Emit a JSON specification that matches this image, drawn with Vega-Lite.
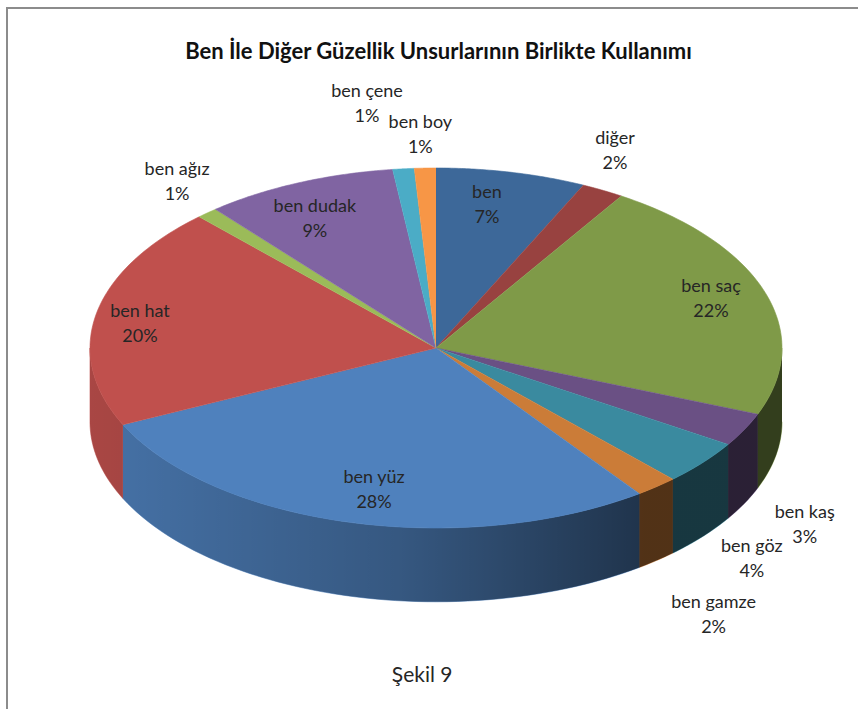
{
  "$schema": "https://vega.github.io/schema/vega-lite/v6.json",
  "width": 860,
  "height": 720,
  "padding": {"left": 7, "top": 8, "right": 0, "bottom": 0},
  "autosize": "none",
  "background": "white",
  "view": {"stroke": "#8c8c8c", "strokeWidth": 2, "fill": "white"},
  "title": {
    "text": "Ben İle Diğer Güzellik Unsurlarının Birlikte Kullanımı",
    "font": "Lato",
    "fontSize": 22,
    "fontWeight": "bold",
    "color": "#111111",
    "anchor": "middle",
    "orient": "top",
    "offset": 0,
    "dy": 66,
    "dx": 1.5,
    "baseline": "middle"
  },
  "datasets": {
    "slices": [
      {"label": "ben", "value": 7},
      {"label": "diğer", "value": 2},
      {"label": "ben saç", "value": 22},
      {"label": "ben kaş", "value": 3},
      {"label": "ben göz", "value": 4},
      {"label": "ben gamze", "value": 2},
      {"label": "ben yüz", "value": 28},
      {"label": "ben hat", "value": 20},
      {"label": "ben ağız", "value": 1},
      {"label": "ben dudak", "value": 9},
      {"label": "ben çene", "value": 1},
      {"label": "ben boy", "value": 1}
    ]
  },
  "encoding": {
    "x": {"type": "quantitative", "scale": {"domain": [-1.2399, 1.2457], "nice": false, "zero": false}, "axis": null},
    "y": {"type": "quantitative", "scale": {"domain": [-2.1111, 1.8889], "nice": false, "zero": false}, "axis": null}
  },
  "layer": [
    {
      "data": {"name": "slices"},
      "transform": [
        {"window": [{"op": "sum", "field": "value", "as": "cum"}]},
        {"calculate": "(datum.cum - datum.value) * 3.6", "as": "a0"},
        {"calculate": "datum.cum * 3.6", "as": "a1"},
        {"calculate": "clamp(datum.a0, 90, 270)", "as": "w0"},
        {"calculate": "clamp(datum.a1, 90, 270)", "as": "w1"},
        {"filter": "datum.w1 > datum.w0"},
        {"calculate": "sequence(0, 120)", "as": "i"},
        {"flatten": ["i"]},
        {"calculate": "datum.i < 60 ? datum.w0 + (datum.w1 - datum.w0) * datum.i / 59 : datum.w1 - (datum.w1 - datum.w0) * (datum.i - 60) / 59", "as": "t"},
        {"calculate": "sin(datum.t * PI / 180)", "as": "px"},
        {"calculate": "cos(datum.t * PI / 180) - (datum.i < 60 ? 0 : 0.41)", "as": "py"}
      ],
      "mark": {"type": "line", "strokeWidth": 0.6},
      "encoding": {
        "x": {"field": "px"},
        "y": {"field": "py"},
        "order": {"field": "i", "type": "quantitative"},
        "fill": {"field": "label", "type": "nominal", "legend": null,
          "scale": {
            "domain": ["ben", "diğer", "ben saç", "ben kaş", "ben göz", "ben gamze", "ben yüz", "ben hat", "ben ağız", "ben dudak", "ben çene", "ben boy"],
            "range": ["#3d6899", "#984240", "#7f9a48", "#6a5084", "#3a8a9f", "#cb7c38", "#4f81bd", "#c0504d", "#9bbb59", "#8064a2", "#4bacc6", "#f79646"]
          }},
        "stroke": {"field": "label", "type": "nominal", "legend": null,
          "scale": {
            "domain": ["ben", "diğer", "ben saç", "ben kaş", "ben göz", "ben gamze", "ben yüz", "ben hat", "ben ağız", "ben dudak", "ben çene", "ben boy"],
            "range": ["#3d6899", "#984240", "#7f9a48", "#6a5084", "#3a8a9f", "#cb7c38", "#4f81bd", "#c0504d", "#9bbb59", "#8064a2", "#4bacc6", "#f79646"]
          }}
      }
    },
    {
      "data": {"values": [{"part": "side shading"}]},
      "transform": [
        {"calculate": "sequence(0, 240)", "as": "i"},
        {"flatten": ["i"]},
        {"calculate": "datum.i < 120 ? 90 + 180 * datum.i / 119 : 270 - 180 * (datum.i - 120) / 119", "as": "t"},
        {"calculate": "sin(datum.t * PI / 180)", "as": "px"},
        {"calculate": "cos(datum.t * PI / 180) - (datum.i < 120 ? 0 : 0.41)", "as": "py"}
      ],
      "mark": {
        "type": "line",
        "strokeOpacity": 0,
        "fill": {
          "x1": 0, "y1": 0, "x2": 1, "y2": 0,
          "gradient": "linear",
          "stops": [
            {"offset": 0, "color": "rgba(0,0,0,0.12)"},
            {"offset": 0.06, "color": "rgba(0,0,0,0.14)"},
            {"offset": 0.45, "color": "rgba(0,0,0,0.32)"},
            {"offset": 0.8, "color": "rgba(0,0,0,0.6)"},
            {"offset": 1, "color": "rgba(0,0,0,0.6)"}
          ]
        }
      },
      "encoding": {
        "x": {"field": "px"},
        "y": {"field": "py"},
        "order": {"field": "i", "type": "quantitative"}
      }
    },
    {
      "data": {"name": "slices"},
      "transform": [
        {"window": [{"op": "sum", "field": "value", "as": "cum"}]},
        {"calculate": "(datum.cum - datum.value) * 3.6", "as": "a0"},
        {"calculate": "datum.cum * 3.6", "as": "a1"},
        {"calculate": "sequence(0, 62)", "as": "i"},
        {"flatten": ["i"]},
        {"calculate": "datum.a0 + (datum.a1 - datum.a0) * (datum.i - 1) / 60", "as": "t"},
        {"calculate": "datum.i == 0 ? 0 : 1", "as": "r"},
        {"calculate": "datum.r * sin(datum.t * PI / 180)", "as": "px"},
        {"calculate": "datum.r * cos(datum.t * PI / 180)", "as": "py"}
      ],
      "mark": {"type": "line", "strokeWidth": 0.6},
      "encoding": {
        "x": {"field": "px"},
        "y": {"field": "py"},
        "order": {"field": "i", "type": "quantitative"},
        "fill": {"field": "label", "type": "nominal", "legend": null},
        "stroke": {"field": "label", "type": "nominal", "legend": null}
      }
    },
    {
      "data": {"name": "slices"},
      "transform": [
        {"window": [{"op": "sum", "field": "value", "as": "cum"}]},
        {"calculate": "(datum.cum - datum.value / 2) * 3.6 + {'ben': -2.1, 'diğer': -3.4, 'ben saç': -0.9, 'ben kaş': 15.7, 'ben göz': 12.5, 'ben gamze': 11.2, 'ben yüz': -1.7, 'ben hat': -2.3, 'ben ağız': 2.2, 'ben dudak': -2.8, 'ben çene': -3, 'ben boy': -0.4}[datum.label]", "as": "mid"},
        {"calculate": "{'ben': 0.807, 'diğer': 1.206, 'ben saç': 0.84, 'ben kaş': 1.45, 'ben göz': 1.486, 'ben gamze': 1.687, 'ben yüz': 0.814, 'ben hat': 0.865, 'ben ağız': 1.184, 'ben dudak': 0.793, 'ben çene': 1.365, 'ben boy': 1.179}[datum.label]", "as": "reach"},
        {"calculate": "datum.reach * sin(datum.mid * PI / 180)", "as": "px"},
        {"calculate": "datum.reach * cos(datum.mid * PI / 180) + 0.0694", "as": "py"},
        {"calculate": "datum.label + '\\n' + datum.value + '%'", "as": "caption"}
      ],
      "mark": {"type": "text", "font": "Lato", "fontSize": 18, "color": "#262626", "lineBreak": "\n", "lineHeight": 25, "align": "center", "baseline": "middle"},
      "encoding": {
        "x": {"field": "px"},
        "y": {"field": "py"},
        "text": {"field": "caption", "type": "nominal"}
      }
    },
    {
      "data": {"values": [{"note": "Şekil 9"}]},
      "mark": {"type": "text", "font": "Lato", "fontSize": 21, "color": "#262626", "align": "center", "baseline": "middle"},
      "encoding": {
        "x": {"datum": -0.04},
        "y": {"datum": -1.82},
        "text": {"field": "note", "type": "nominal"}
      }
    }
  ]
}
